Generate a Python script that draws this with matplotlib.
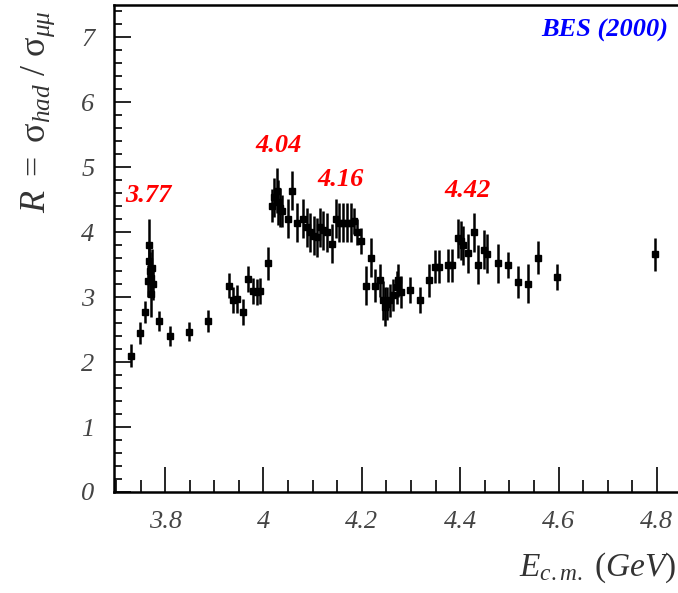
import numpy as np
import matplotlib
matplotlib.use("Agg")
import matplotlib.pyplot as plt
from matplotlib.ticker import MultipleLocator

plt.rcParams['mathtext.fontset'] = 'custom'
plt.rcParams['mathtext.rm'] = 'Liberation Serif'
plt.rcParams['mathtext.it'] = 'Liberation Serif:italic'
plt.rcParams['mathtext.bf'] = 'Liberation Serif:bold'

# BES (2000) R scan
energy = [3.730, 3.749, 3.759, 3.768, 3.768, 3.770, 3.772, 3.774, 3.766, 3.776, 3.771,
          3.788, 3.809, 3.849, 3.888, 3.929, 3.939, 3.947, 3.959, 3.969, 3.979, 3.986,
          3.993, 4.009, 4.017, 4.022, 4.027, 4.030, 4.034, 4.038, 4.049, 4.059, 4.068,
          4.080, 4.088, 4.095, 4.103, 4.108, 4.115, 4.122, 4.130, 4.139, 4.148, 4.154,
          4.161, 4.169, 4.177, 4.184, 4.191, 4.198, 4.208, 4.218, 4.227, 4.236, 4.244,
          4.247, 4.252, 4.257, 4.264, 4.271, 4.274, 4.279, 4.298, 4.318, 4.337, 4.349,
          4.357, 4.376, 4.384, 4.396, 4.401, 4.406, 4.416, 4.428, 4.437, 4.448, 4.455,
          4.477, 4.498, 4.518, 4.538, 4.559, 4.597, 4.796]
r_value = [2.10, 2.45, 2.77, 3.80, 3.55, 3.40, 3.30, 3.45, 3.25, 3.20, 3.05,
           2.63, 2.40, 2.47, 2.63, 3.18, 2.95, 2.97, 2.77, 3.28, 3.10, 3.08,
           3.10, 3.52, 4.41, 4.54, 4.64, 4.46, 4.38, 4.33, 4.21, 4.64, 4.15,
           4.21, 4.08, 4.00, 3.95, 3.92, 4.08, 4.03, 4.00, 3.82, 4.21, 4.15,
           4.15, 4.15, 4.15, 4.18, 4.00, 3.86, 3.18, 3.61, 3.18, 3.26, 2.95,
           2.85, 2.90, 2.95, 3.03, 3.15, 3.26, 3.08, 3.11, 2.96, 3.26, 3.47,
           3.47, 3.49, 3.49, 3.91, 3.87, 3.80, 3.68, 4.00, 3.50, 3.73, 3.67,
           3.52, 3.49, 3.23, 3.21, 3.61, 3.31, 3.66]
r_error = [0.18, 0.17, 0.17, 0.40, 0.30, 0.30, 0.30, 0.30, 0.25, 0.25, 0.35,
           0.15, 0.15, 0.15, 0.17, 0.20, 0.20, 0.22, 0.20, 0.20, 0.20, 0.20,
           0.20, 0.25, 0.25, 0.30, 0.35, 0.35, 0.30, 0.25, 0.30, 0.30, 0.30,
           0.30, 0.30, 0.30, 0.30, 0.30, 0.30, 0.30, 0.30, 0.30, 0.30, 0.30,
           0.30, 0.30, 0.30, 0.20, 0.20, 0.20, 0.30, 0.30, 0.25, 0.25, 0.30,
           0.30, 0.25, 0.25, 0.25, 0.25, 0.25, 0.25, 0.20, 0.20, 0.25, 0.25,
           0.25, 0.25, 0.25, 0.30, 0.30, 0.30, 0.30, 0.30, 0.30, 0.30, 0.30,
           0.30, 0.20, 0.25, 0.30, 0.25, 0.20, 0.25]

peak_labels = ["3.77", "4.04", "4.16", "4.42"]
peak_pos = [(3.765, 4.56), (4.030, 5.33), (4.156, 4.82), (4.416, 4.64)]

fig = plt.figure(figsize=(6.78, 5.93), dpi=100)
ax = fig.add_axes([114 / 678, 101 / 593, 1 - 114 / 678, 487 / 593])

ax.errorbar(energy, r_value, yerr=r_error, fmt='s', color='black',
            markersize=4.5, elinewidth=1.8, capsize=0)

ax.set_xlim(3.696, 4.843)
ax.set_ylim(0, 7.5)

ax.xaxis.set_major_locator(MultipleLocator(0.2))
ax.xaxis.set_minor_locator(MultipleLocator(0.05))
ax.yaxis.set_major_locator(MultipleLocator(1))
ax.yaxis.set_minor_locator(MultipleLocator(0.2))
ax.set_xticks([3.8, 4.0, 4.2, 4.4, 4.6, 4.8])
ax.set_xticklabels(["3.8", "4", "4.2", "4.4", "4.6", "4.8"])

ax.tick_params(axis='x', which='major', direction='in', length=18, width=1.2,
               pad=14, top=False)
ax.tick_params(axis='x', which='minor', direction='in', length=9, width=1.2, top=False)
ax.tick_params(axis='y', which='major', direction='in', length=12, width=1.2,
               pad=14, right=False)
ax.tick_params(axis='y', which='minor', direction='in', length=6, width=1.2, right=False)
for lab in ax.get_xticklabels() + ax.get_yticklabels():
    lab.set_fontfamily('Liberation Serif')
    lab.set_fontstyle('italic')
    lab.set_fontsize(19)
    lab.set_color('#444444')

for s in ['left', 'bottom', 'top']:
    ax.spines[s].set_linewidth(1.8)
ax.spines['right'].set_visible(False)

for txt, (x, y) in zip(peak_labels, peak_pos):
    ax.text(x, y, txt, color='red', fontsize=19, fontweight='bold', fontstyle='italic',
            fontfamily='Liberation Serif', ha='center', va='center')

fig.text(605 / 678, 1 - 30 / 593, "BES (2000)", color='blue', fontsize=19,
         fontweight='bold', fontstyle='italic', fontfamily='Liberation Serif',
         ha='center', va='center')

fig.text(38 / 678, 1 - 10 / 593, r"$R\ =\ \mathrm{\sigma}_{had}\ /\ \mathrm{\sigma}_{\mu\mu}$",
         rotation=90, fontsize=26, color='#333333', ha='center', va='top')
fig.text(0.998, 1 - 568 / 593, r"$E_{c.m.}\ (GeV)$", fontsize=24, color='#333333',
         ha='right', va='center')

fig.savefig("out.png", dpi=100)
